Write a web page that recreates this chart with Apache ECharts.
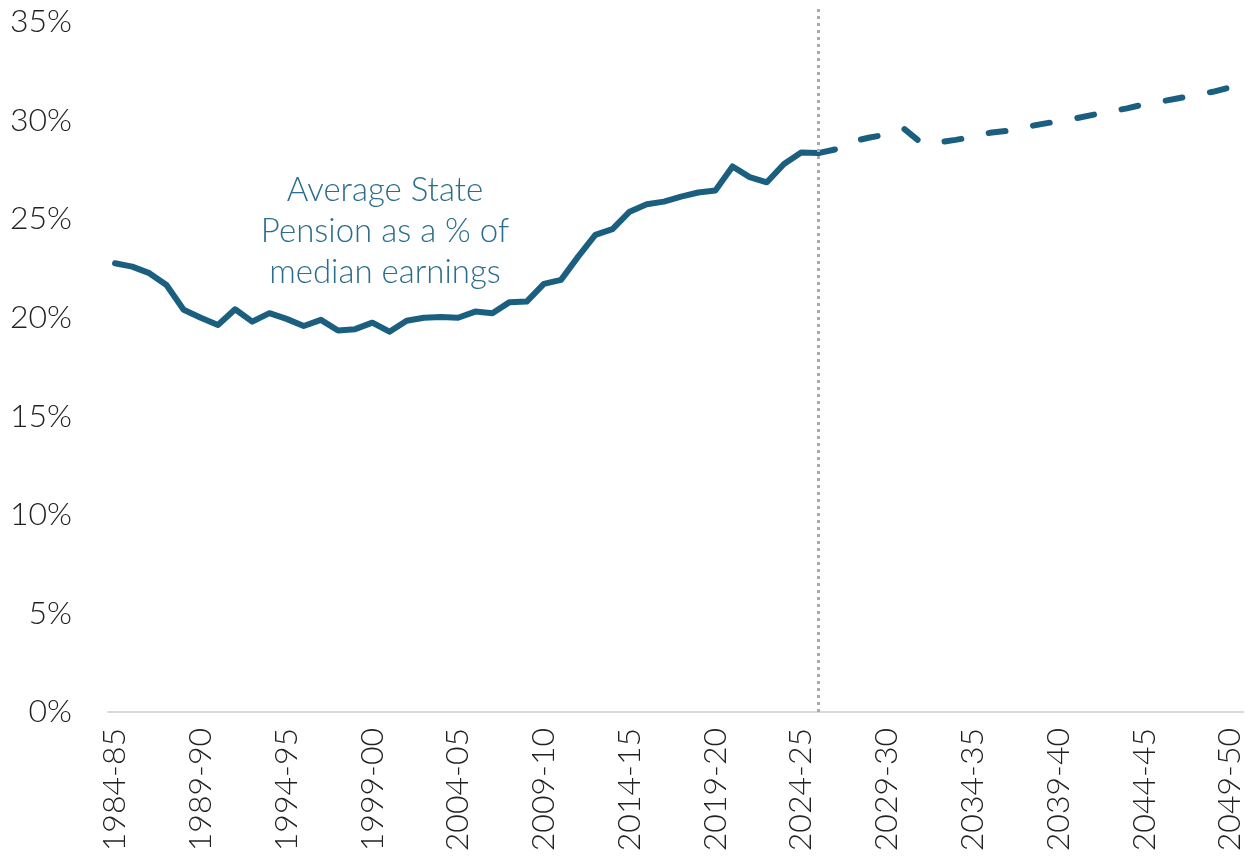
<!DOCTYPE html>
<html>
<head>
<meta charset="utf-8">
<title>Average State Pension as a % of median earnings</title>
<script src="https://cdn.jsdelivr.net/npm/echarts@6/dist/echarts.min.js"></script>
<style>
    html, body { margin: 0; padding: 0; background: #fff; }
    #main { width: 1258px; height: 861px; }
</style>
</head>
<body>
<div id="main"></div>
<script>
// years 1984-85 .. 2049-50
var years = [];
for (var y = 1984; y <= 2049; y++) {
    years.push(y + '-' + String((y + 1) % 100).padStart(2, '0'));
}

// outturn, 1984-85 .. 2025-26
var actual = [22.76, 22.59, 22.26, 21.66, 20.40, 20.00, 19.63, 20.43, 19.80, 20.23,
              19.94, 19.58, 19.89, 19.35, 19.42, 19.75, 19.29, 19.85, 20.00, 20.03,
              20.00, 20.31, 20.23, 20.79, 20.82, 21.72, 21.92, 23.10, 24.20, 24.49,
              25.38, 25.76, 25.89, 26.14, 26.35, 26.45, 27.67, 27.13, 26.87, 27.80,
              28.38, 28.35];

// projection, 2025-26 .. 2049-50
var projected = [28.35, 28.54, 28.94, 29.14, 29.30, 29.58, 28.87, 28.89, 29.02, 29.17,
                 29.38, 29.48, 29.66, 29.82, 29.97, 30.11, 30.29, 30.46, 30.62, 30.82,
                 30.97, 31.13, 31.30, 31.46, 31.68];

var labelYears = [0, 5, 10, 15, 20, 25, 30, 35, 40, 45, 50, 55, 60, 65];
var splitIndex = 41; // 2025-26

var lineColor = '#1b5f80';
var font = 'Lato';

var actualData = actual.map(function (v, i) { return [i, v]; });
var projData = projected.map(function (v, i) { return [i + splitIndex, v]; });

var myChart = echarts.init(document.getElementById('main'));

var option = {
    animation: false,
    grid: { left: 108, right: 15, top: 8, bottom: 149 },
    xAxis: {
        type: 'value',
        min: -0.41,
        max: 65.76,
        splitLine: { show: false },
        axisLine: { show: true, lineStyle: { color: '#d9d9d9', width: 2 } },
        axisTick: { show: false },
        axisLabel: {
            customValues: labelYears,
            rotate: 90,
            margin: 16,
            fontFamily: font,
            fontWeight: 300,
            fontSize: 32,
            color: '#222',
            formatter: function (v) { return years[Math.round(v)]; }
        }
    },
    yAxis: {
        type: 'value',
        min: 0,
        max: 35.71,
        interval: 5,
        splitLine: { show: false },
        axisLine: { show: false },
        axisTick: { show: false },
        axisLabel: {
            showMaxLabel: false,
            margin: 36,
            fontFamily: font,
            fontWeight: 300,
            fontSize: 32,
            color: '#222',
            formatter: '{value}%'
        }
    },
    graphic: [{
        type: 'text',
        x: 385,
        y: 170,
        style: {
            text: 'Average State\nPension as a % of\nmedian earnings',
            align: 'center',
            verticalAlign: 'top',
            fontFamily: font,
            fontWeight: 300,
            fontSize: 33,
            lineHeight: 41,
            fill: '#2a6d8c'
        }
    }],
    series: [
        {
            name: 'Outturn',
            type: 'line',
            data: actualData,
            symbol: 'none',
            lineStyle: { color: lineColor, width: 6, cap: 'round', join: 'round' },
            markLine: {
                silent: true,
                symbol: 'none',
                label: { show: false },
                lineStyle: { color: '#aaaaaa', width: 3, type: [3, 4] },
                data: [{ xAxis: splitIndex }]
            },
            z: 3
        },
        {
            name: 'Projection',
            type: 'line',
            data: projData,
            symbol: 'none',
            lineStyle: { color: lineColor, width: 6, type: [17, 28], cap: 'round', join: 'round' },
            z: 3
        }
    ]
};

myChart.setOption(option);
</script>
</body>
</html>
